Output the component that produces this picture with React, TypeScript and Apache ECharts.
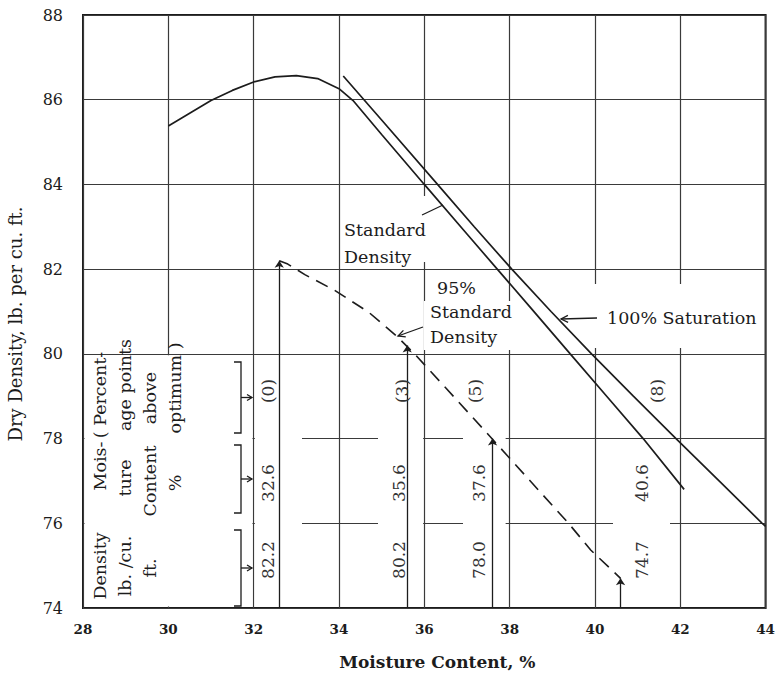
import React, { useEffect, useRef } from 'react';
import * as echarts from 'echarts';

// Axis ticks
const xTicks = [28, 30, 32, 34, 36, 38, 40, 42, 44];
const yTicks = [74, 76, 78, 80, 82, 84, 86, 88];

// Standard Density curve (moisture %, dry density)
const stdMoisture = [30.0, 30.5, 31.0, 31.5, 32.0, 32.5, 33.0, 33.5, 34.0, 34.33, 35.0, 36.0, 37.0, 37.71, 38.5, 39.42, 40.3, 41.13, 42.09];
const stdDensity = [85.38, 85.68, 85.98, 86.22, 86.42, 86.54, 86.57, 86.5, 86.26, 85.98, 85.18, 84.0, 82.83, 82.0, 81.08, 80.0, 78.97, 78.0, 76.8];

// 100% Saturation curve
const satMoisture = [34.1, 35.0, 36.31, 37.17, 38.05, 38.97, 39.92, 40.9, 41.9, 42.91, 43.92, 44.0];
const satDensity = [86.56, 85.52, 84.0, 83.0, 82.0, 81.0, 80.0, 79.0, 78.0, 77.0, 76.0, 75.93];

// 95% Standard Density curve (dashed)
const dashMoisture = [32.6, 32.8, 33.2, 33.9, 34.7, 35.35, 35.77, 36.5, 37.63, 38.5, 39.38, 39.9, 40.6];
const dashDensity = [82.2, 82.12, 81.87, 81.5, 80.98, 80.42, 80.0, 79.2, 77.95, 76.98, 76.0, 75.37, 74.7];

// Marked points on the 95% curve
const testMoisture = [32.6, 35.6, 37.6, 40.6];
const testDensity = [82.2, 80.2, 78.0, 74.7];
const testPercent = [0, 3, 5, 8];

const SERIF = '"DejaVu Serif", "Liberation Serif", serif';
const INK = '#1c1c1c';
const GRIDC = '#3a3a3a';

const zip = (xs: number[], ys: number[]) => xs.map((x, i) => [x, ys[i]]);

function text(t: string, x: number, y: number, o: any = {}) {
  return {
    type: 'text',
    x,
    y,
    rotation: o.rot || 0,
    z: 10,
    silent: true,
    style: {
      text: t,
      fill: o.fill || INK,
      fontSize: o.size || 17.5,
      fontFamily: SERIF,
      fontWeight: o.weight || 'normal',
      align: o.align || 'center',
      verticalAlign: 'middle',
    },
  };
}
function mask(x1: number, y1: number, x2: number, y2: number) {
  return { type: 'rect', z: 1, silent: true, shape: { x: x1, y: y1, width: x2 - x1, height: y2 - y1 }, style: { fill: '#ffffff' } };
}
function seg(x1: number, y1: number, x2: number, y2: number, w = 1.3) {
  return { type: 'line', z: 10, silent: true, shape: { x1, y1, x2, y2 }, style: { stroke: INK, lineWidth: w } };
}
function poly(points: number[][], w = 1.3) {
  return { type: 'polyline', z: 10, silent: true, shape: { points }, style: { stroke: INK, fill: 'none', lineWidth: w } };
}
function arrowHead(tipX: number, tipY: number, fromX: number, fromY: number, len = 6, half = 3) {
  const dx = tipX - fromX, dy = tipY - fromY;
  const L = Math.hypot(dx, dy) || 1;
  const ux = dx / L, uy = dy / L;
  const bx = tipX - ux * len, by = tipY - uy * len;
  return poly([[bx - uy * half, by + ux * half], [tipX, tipY], [bx + uy * half, by - ux * half]]);
}

export default function App() {
  const ref = useRef<HTMLDivElement>(null);
  useEffect(() => {
    const chart = echarts.init(ref.current as HTMLDivElement, null, { renderer: 'svg' });
    const lineBase = { type: 'line', showSymbol: false, symbol: 'none', silent: true, smooth: false };
    chart.setOption({
      animation: false,
      backgroundColor: '#ffffff',
      grid: { left: 83, right: 8, top: 15, bottom: 71, show: true, borderColor: INK, borderWidth: 2, backgroundColor: 'transparent' },
      xAxis: {
        type: 'value',
        min: xTicks[0],
        max: xTicks[xTicks.length - 1],
        interval: 2,
        axisLine: { show: false },
        axisTick: { show: false },
        splitLine: { show: true, lineStyle: { color: GRIDC, width: 1.2 } },
        axisLabel: { margin: 14, fontSize: 13.5, fontWeight: 'bold', fontFamily: SERIF, color: INK },
        name: 'Moisture Content, %',
        nameLocation: 'middle',
        nameGap: 45,
        nameTextStyle: { fontSize: 17, fontWeight: 'bold', fontFamily: SERIF, color: INK, padding: [0, 0, 0, 26] },
      },
      yAxis: {
        type: 'value',
        min: yTicks[0],
        max: yTicks[yTicks.length - 1],
        interval: 2,
        axisLine: { show: false },
        axisTick: { show: false },
        splitLine: { show: true, lineStyle: { color: GRIDC, width: 1.2 } },
        axisLabel: { margin: 20, fontSize: 16, fontFamily: SERIF, color: INK },
      },
      series: [
        { ...lineBase, name: 'Standard Density', data: zip(stdMoisture, stdDensity), lineStyle: { color: INK, width: 1.7 } },
        { ...lineBase, name: '100% Saturation', data: zip(satMoisture, satDensity), lineStyle: { color: INK, width: 1.7 } },
        {
          ...lineBase,
          name: '95% Standard Density',
          data: zip(dashMoisture, dashDensity),
          lineStyle: { color: INK, width: 1.6, type: [13, 8] },
          markLine: {
            silent: true,
            symbol: ['none', 'arrow'],
            symbolSize: 7,
            label: { show: false },
            lineStyle: { type: 'solid', color: INK, width: 1.3 },
            emphasis: { disabled: true },
            data: testMoisture.map((m, i) => [{ coord: [m, yTicks[0]] }, { coord: [m, testDensity[i]] }]),
          },
        },
      ],
    });

    const P = (x: number, y: number) => chart.convertToPixel({ gridIndex: 0 }, [x, y]) as number[];
    const [x28, y80] = P(28, 80);
    const [x32, y74] = P(32, 74);
    const x36 = P(36, 80)[0];
    const x38 = P(38, 80)[0];
    const y78 = P(28, 78)[1];
    const top = y80 + 1.5;
    const bot = y74 - 1.5;

    const g: any[] = [];
    // white masks (gaps in the grid where annotations sit)
    g.push(mask(x28 + 1.5, top, x32 - 1.2, bot));
    g.push(mask(x32 + 1.2, top, 302, bot));
    g.push(mask(378, top, x36 - 1.2, bot));
    g.push(mask(463, top, x38 - 4, bot));
    g.push(mask(613, y78 + 3, 670, bot));
    g.push(mask(343, 196, 431, 262));
    g.push(mask(424, 301, 516, 350));
    g.push(mask(594, 284, 764, 348));

    const R = Math.PI / 2;
    // y axis title
    g.push(text('Dry Density, lb. per cu. ft.', 15, 324, { rot: R, size: 18 }));

    // left header block (rotated)
    const cols = [100, 125, 150, 175];
    g.push(text('( Percent-', cols[0], 395, { rot: R }));
    g.push(text('age points', cols[1], 385, { rot: R }));
    g.push(text('above', cols[2], 398, { rot: R }));
    g.push(text('optimum )', cols[3], 388, { rot: R }));
    g.push(text('Mois-', cols[0], 466, { rot: R }));
    g.push(text('ture', cols[1], 478, { rot: R }));
    g.push(text('Content', cols[2], 481, { rot: R }));
    g.push(text('%', cols[3], 483, { rot: R }));
    g.push(text('Density', cols[0], 566, { rot: R }));
    g.push(text('lb. /cu.', cols[1], 566, { rot: R }));
    g.push(text('ft.', cols[2], 568, { rot: R }));

    // brackets with arrows
    const brackets = [[362, 433], [445, 513], [530, 606]];
    brackets.forEach(([a, b]) => {
      g.push(poly([[234, a], [241, a], [241, b], [234, b]]));
      const m = (a + b) / 2;
      g.push(seg(241, m, 252, m));
      g.push(arrowHead(252, m, 241, m, 5, 3));
    });

    // value labels beside each vertical arrow
    const dxVal = [-11, -8, -14, 21];
    const dxPct = [-11, -5, -18, 36];
    testMoisture.forEach((m, i) => {
      const px = P(m, 74)[0];
      g.push(text(`(${testPercent[i]})`, px + dxPct[i], 391, { rot: R, size: 17, fill: '#333' }));
      g.push(text(m.toFixed(1), px + dxVal[i], 483, { rot: R, size: 17, fill: '#333' }));
      g.push(text(testDensity[i].toFixed(1), px + dxVal[i], 560, { rot: R, size: 17, fill: '#333' }));
    });

    // curve labels
    g.push(text('Standard', 344, 230, { align: 'left' }));
    g.push(text('Density', 344, 257, { align: 'left' }));
    g.push(seg(422, 215, 443, 205));

    g.push(text('95%', 437, 288, { align: 'left' }));
    g.push(text('Standard', 430, 312, { align: 'left' }));
    g.push(text('Density', 430, 337, { align: 'left' }));
    g.push(seg(423, 327, 398, 336));
    g.push(arrowHead(398, 336, 423, 327, 7, 3.5));

    g.push(text('100% Saturation', 607, 318, { align: 'left' }));
    g.push(seg(597, 318, 561, 319));
    g.push(arrowHead(561, 319, 597, 318, 7, 3.5));

    chart.setOption({ graphic: { elements: g } });
    return () => chart.dispose();
  }, []);
  return <div ref={ref} style={{ position: 'fixed', left: 0, top: 0, width: 778, height: 679, background: '#fff' }} />;
}
